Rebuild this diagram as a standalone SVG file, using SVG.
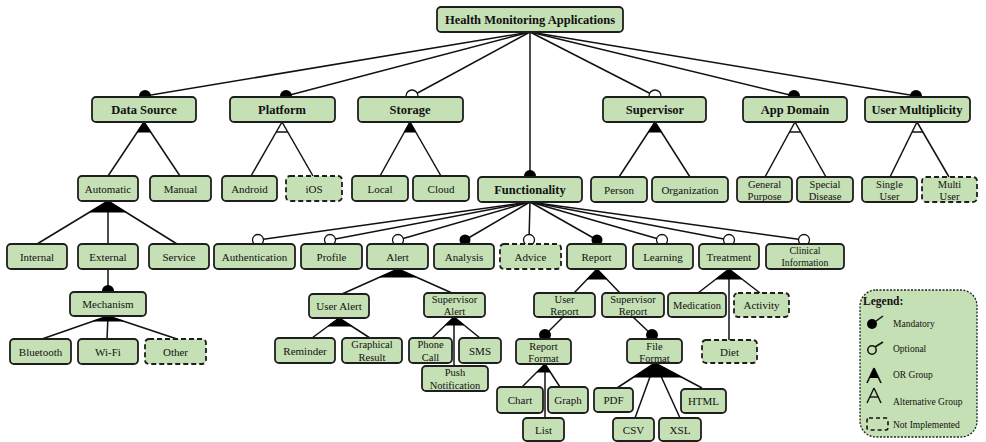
<svg xmlns="http://www.w3.org/2000/svg" width="986" height="442" viewBox="0 0 986 442" font-family="'Liberation Serif', 'Times New Roman', Times, serif">
<style>
.n{fill:#c5e0b4;stroke:#1e1e1e;stroke-width:1.8}
.d{stroke-dasharray:5 3}
text{font-family:'Liberation Serif','Times New Roman',Times,serif;font-size:11px;text-anchor:middle;fill:#111}
.b{font-weight:bold;font-size:12.5px}
.s{font-size:10.5px}
.x{font-size:9.8px}
.c line{stroke:#111;stroke-width:1.5}
.c polygon{fill:#000;stroke:#000;stroke-width:1}
.m{fill:#000}
.o{fill:#fff;stroke:#111;stroke-width:1.3}
.lg{font-size:9.5px;text-anchor:start}
</style>
<rect width="986" height="442" fill="#fff"/>

<g id="connectors" class="c">
  <line x1="530" y1="32" x2="145" y2="96"/>
  <line x1="530" y1="32" x2="286" y2="96"/>
  <line x1="530" y1="32" x2="412" y2="96"/>
  <line x1="530" y1="32" x2="655" y2="96"/>
  <line x1="530" y1="32" x2="794" y2="96"/>
  <line x1="530" y1="32" x2="916" y2="96"/>
  <line x1="530" y1="32" x2="530" y2="176"/>
  <circle class="m" cx="145" cy="96" r="6"/>
  <circle class="m" cx="286" cy="96" r="6"/>
  <circle class="o" cx="412" cy="96" r="6"/>
  <circle class="o" cx="655" cy="96" r="6"/>
  <circle class="m" cx="794" cy="96" r="6"/>
  <circle class="m" cx="916" cy="96" r="6"/>
  <circle class="m" cx="530" cy="176" r="6"/>
  <line x1="144" y1="122" x2="108" y2="176"/>
  <line x1="144" y1="122" x2="180" y2="176"/>
  <polygon points="144,122 137.3,132 150.7,132"/>
  <line x1="282" y1="122" x2="251" y2="176"/>
  <line x1="282" y1="122" x2="313" y2="176"/>
  <line x1="276.3" y1="132" x2="287.7" y2="132"/>
  <line x1="410" y1="122" x2="380" y2="176"/>
  <line x1="410" y1="122" x2="441" y2="176"/>
  <polygon points="410,122 404.4,132 415.7,132"/>
  <line x1="655" y1="122" x2="619" y2="177"/>
  <line x1="655" y1="122" x2="690" y2="177"/>
  <polygon points="655,122 648.5,132 661.4,132"/>
  <line x1="795" y1="122" x2="765" y2="177"/>
  <line x1="795" y1="122" x2="826" y2="177"/>
  <line x1="789.5" y1="132" x2="800.6" y2="132"/>
  <line x1="917" y1="122" x2="890" y2="177"/>
  <line x1="917" y1="122" x2="949" y2="177"/>
  <line x1="912.1" y1="132" x2="922.8" y2="132"/>
  <line x1="530" y1="202" x2="258" y2="240"/>
  <line x1="530" y1="202" x2="330" y2="240"/>
  <line x1="530" y1="202" x2="398" y2="240"/>
  <line x1="530" y1="202" x2="465" y2="240"/>
  <line x1="530" y1="202" x2="529" y2="240"/>
  <line x1="530" y1="202" x2="597" y2="240"/>
  <line x1="530" y1="202" x2="662" y2="240"/>
  <line x1="530" y1="202" x2="729" y2="240"/>
  <line x1="530" y1="202" x2="804" y2="240"/>
  <circle class="o" cx="258" cy="240" r="5.5"/>
  <circle class="o" cx="330" cy="240" r="5.5"/>
  <circle class="o" cx="398" cy="240" r="5.5"/>
  <circle class="m" cx="465" cy="240" r="5.5"/>
  <circle class="o" cx="529" cy="240" r="5.5"/>
  <circle class="m" cx="597" cy="240" r="5.5"/>
  <circle class="o" cx="662" cy="240" r="5.5"/>
  <circle class="o" cx="729" cy="240" r="5.5"/>
  <circle class="o" cx="804" cy="240" r="5.5"/>
  <line x1="108" y1="201" x2="37" y2="244"/>
  <line x1="108" y1="201" x2="108" y2="244"/>
  <line x1="108" y1="201" x2="177" y2="244"/>
  <polygon points="108,201 89.8,212 125.7,212"/>
  <line x1="108" y1="269" x2="108" y2="291"/>
  <circle class="m" cx="108" cy="291" r="6"/>
  <line x1="108" y1="316" x2="42" y2="339"/>
  <line x1="108" y1="316" x2="107" y2="339"/>
  <line x1="108" y1="316" x2="177" y2="339"/>
  <polygon points="108,316 93.7,321 123,321"/>
  <line x1="398" y1="269" x2="342" y2="294"/>
  <line x1="398" y1="269" x2="452" y2="293"/>
  <polygon points="398,269 380.1,277 416,277"/>
  <line x1="339" y1="318" x2="312" y2="338"/>
  <line x1="339" y1="318" x2="370" y2="338"/>
  <polygon points="339,318 328.2,326 351.4,326"/>
  <line x1="454" y1="317" x2="432" y2="338"/>
  <line x1="454" y1="317" x2="454" y2="366"/>
  <line x1="454" y1="317" x2="480" y2="338"/>
  <polygon points="454,317 445.6,325 463.9,325"/>
  <line x1="597" y1="269" x2="574" y2="293"/>
  <line x1="597" y1="269" x2="620" y2="293"/>
  <polygon points="597,269 587.4,279 606.6,279"/>
  <line x1="563" y1="317" x2="545" y2="335"/>
  <circle class="m" cx="545" cy="335" r="6"/>
  <line x1="633" y1="317" x2="652" y2="335"/>
  <circle class="m" cx="652" cy="335" r="6"/>
  <line x1="545" y1="364" x2="522" y2="387"/>
  <line x1="545" y1="364" x2="545" y2="418"/>
  <line x1="545" y1="364" x2="560" y2="387"/>
  <polygon points="545,364 537,372 550.2,372"/>
  <line x1="655" y1="363" x2="617" y2="388"/>
  <line x1="655" y1="363" x2="635" y2="418"/>
  <line x1="655" y1="363" x2="680" y2="418"/>
  <line x1="655" y1="363" x2="702" y2="388"/>
  <polygon points="655,363 633.7,377 681.3,377"/>
  <line x1="729" y1="269" x2="698" y2="293"/>
  <line x1="729" y1="269" x2="729" y2="340"/>
  <line x1="729" y1="269" x2="760" y2="293"/>
  <polygon points="729,269 716.1,279 741.9,279"/>
</g>

<g id="root"><rect class="n" x="437" y="7" width="186" height="25" rx="4"/><text class="b" x="530" y="24">Health Monitoring Applications</text></g>

<g id="data-source"><rect class="n" x="92" y="97" width="104" height="25" rx="4"/><text class="b" x="144" y="114">Data Source</text></g>
<g id="platform"><rect class="n" x="230" y="97" width="105" height="25" rx="4"/><text class="b" x="282" y="114">Platform</text></g>
<g id="storage"><rect class="n" x="358" y="97" width="105" height="25" rx="4"/><text class="b" x="410" y="114">Storage</text></g>
<g id="supervisor"><rect class="n" x="603" y="97" width="103" height="25" rx="4"/><text class="b" x="655" y="114">Supervisor</text></g>
<g id="app-domain"><rect class="n" x="743" y="97" width="104" height="25" rx="4"/><text class="b" x="795" y="114">App Domain</text></g>
<g id="user-multiplicity"><rect class="n" x="865" y="97" width="105" height="25" rx="4"/><text class="b" x="917" y="114">User Multiplicity</text></g>

<g id="automatic"><rect class="n" x="78" y="176" width="60" height="25" rx="4"/><text x="108" y="192.5">Automatic</text></g>
<g id="manual"><rect class="n" x="150" y="176" width="61" height="25" rx="4"/><text x="180.5" y="192.5">Manual</text></g>
<g id="android"><rect class="n" x="222" y="176" width="55" height="25" rx="4"/><text x="249.5" y="192.5">Android</text></g>
<g id="ios"><rect class="n d" x="286" y="176" width="56" height="25" rx="4"/><text x="314" y="192.5">iOS</text></g>
<g id="local"><rect class="n" x="352" y="176" width="56" height="25" rx="4"/><text x="380" y="192.5">Local</text></g>
<g id="cloud"><rect class="n" x="413" y="176" width="56" height="25" rx="4"/><text x="441" y="192.5">Cloud</text></g>
<g id="functionality"><rect class="n" x="478" y="177" width="104" height="25" rx="4"/><text class="b" x="530" y="194">Functionality</text></g>
<g id="person"><rect class="n" x="591" y="177" width="56" height="25" rx="4"/><text x="619" y="193.5">Person</text></g>
<g id="organization"><rect class="n" x="652" y="177" width="76" height="25" rx="4"/><text x="690" y="193.5">Organization</text></g>
<g id="general-purpose"><rect class="n" x="737" y="177" width="55" height="25" rx="4"/><text class="s" x="764.5" y="187.5">General</text><text class="s" x="764.5" y="200">Purpose</text></g>
<g id="special-disease"><rect class="n" x="797" y="177" width="56" height="25" rx="4"/><text class="s" x="825" y="187.5">Special</text><text class="s" x="825" y="200">Disease</text></g>
<g id="single-user"><rect class="n" x="862" y="177" width="55" height="25" rx="4"/><text class="s" x="889.5" y="187.5">Single</text><text class="s" x="889.5" y="200">User</text></g>
<g id="multi-user"><rect class="n d" x="922" y="177" width="55" height="25" rx="4"/><text class="s" x="949.5" y="187.5">Multi</text><text class="s" x="949.5" y="200">User</text></g>

<g id="internal"><rect class="n" x="7" y="244" width="60" height="25" rx="4"/><text x="37" y="260.5">Internal</text></g>
<g id="external"><rect class="n" x="78" y="244" width="60" height="25" rx="4"/><text x="108" y="260.5">External</text></g>
<g id="service"><rect class="n" x="149" y="244" width="60" height="25" rx="4"/><text x="179" y="260.5">Service</text></g>
<g id="authentication"><rect class="n" x="214" y="244" width="81" height="25" rx="4"/><text x="254.5" y="260.5">Authentication</text></g>
<g id="profile"><rect class="n" x="301" y="244" width="61" height="25" rx="4"/><text x="331.5" y="260.5">Profile</text></g>
<g id="alert"><rect class="n" x="367" y="244" width="61" height="25" rx="4"/><text x="397.5" y="260.5">Alert</text></g>
<g id="analysis"><rect class="n" x="434" y="244" width="60" height="25" rx="4"/><text x="464" y="260.5">Analysis</text></g>
<g id="advice"><rect class="n d" x="500" y="244" width="61" height="25" rx="4"/><text x="530.5" y="260.5">Advice</text></g>
<g id="report"><rect class="n" x="567" y="244" width="59" height="25" rx="4"/><text x="596.5" y="260.5">Report</text></g>
<g id="learning"><rect class="n" x="633" y="244" width="60" height="25" rx="4"/><text x="663" y="260.5">Learning</text></g>
<g id="treatment"><rect class="n" x="699" y="244" width="60" height="25" rx="4"/><text x="729" y="260.5">Treatment</text></g>
<g id="clinical-information"><rect class="n" x="766" y="244" width="78" height="25" rx="4"/><text class="x" x="805" y="253.5">Clinical</text><text class="x" x="805" y="265.5">Information</text></g>

<g id="mechanism"><rect class="n" x="70" y="292" width="76" height="24" rx="4"/><text x="108" y="308">Mechanism</text></g>
<g id="bluetooth"><rect class="n" x="10" y="339" width="61" height="25" rx="4"/><text x="40.5" y="355.5">Bluetooth</text></g>
<g id="wifi"><rect class="n" x="78" y="339" width="60" height="25" rx="4"/><text x="108" y="355.5">Wi-Fi</text></g>
<g id="other"><rect class="n d" x="145" y="339" width="61" height="25" rx="4"/><text x="175.5" y="355.5">Other</text></g>

<g id="user-alert"><rect class="n" x="309" y="294" width="60" height="24" rx="4"/><text x="339" y="309.5">User Alert</text></g>
<g id="supervisor-alert"><rect class="n" x="424" y="293" width="61" height="24" rx="4"/><text class="s" x="454.5" y="302.5">Supervisor</text><text class="s" x="454.5" y="314.5">Alert</text></g>
<g id="reminder"><rect class="n" x="275" y="338" width="60" height="25" rx="4"/><text x="305" y="354.5">Reminder</text></g>
<g id="graphical-result"><rect class="n" x="342" y="338" width="60" height="25" rx="4"/><text class="s" x="372" y="348">Graphical</text><text class="s" x="372" y="360.5">Result</text></g>
<g id="phone-call"><rect class="n" x="409" y="338" width="43" height="25" rx="4"/><text class="s" x="430.5" y="348">Phone</text><text class="s" x="430.5" y="360.5">Call</text></g>
<g id="sms"><rect class="n" x="459" y="338" width="42" height="25" rx="4"/><text x="480" y="354.5">SMS</text></g>
<g id="push-notification"><rect class="n" x="422" y="366" width="66" height="25" rx="4"/><text class="s" x="455" y="376">Push</text><text class="s" x="455" y="388.5">Notification</text></g>

<g id="user-report"><rect class="n" x="534" y="293" width="61" height="24" rx="4"/><text class="s" x="564.5" y="302.5">User</text><text class="s" x="564.5" y="314.5">Report</text></g>
<g id="supervisor-report"><rect class="n" x="602" y="293" width="62" height="24" rx="4"/><text class="s" x="633" y="302.5">Supervisor</text><text class="s" x="633" y="314.5">Report</text></g>
<g id="report-format"><rect class="n" x="516" y="339" width="55" height="25" rx="4"/><text class="s" x="543.5" y="349.5">Report</text><text class="s" x="543.5" y="362">Format</text></g>
<g id="file-format"><rect class="n" x="627" y="339" width="55" height="24" rx="4"/><text class="s" x="654.5" y="349.5">File</text><text class="s" x="654.5" y="361.5">Format</text></g>
<g id="chart"><rect class="n" x="497" y="387" width="46" height="26" rx="4"/><text x="520" y="404">Chart</text></g>
<g id="graph"><rect class="n" x="548" y="387" width="40" height="26" rx="4"/><text x="568" y="404">Graph</text></g>
<g id="list"><rect class="n" x="523" y="418" width="41" height="23" rx="4"/><text x="543.5" y="433.5">List</text></g>
<g id="pdf"><rect class="n" x="594" y="388" width="39" height="24" rx="4"/><text x="613.5" y="404">PDF</text></g>
<g id="html"><rect class="n" x="681" y="389" width="45" height="24" rx="4"/><text x="703.5" y="405">HTML</text></g>
<g id="csv"><rect class="n" x="613" y="418" width="41" height="23" rx="4"/><text x="633.5" y="433.5">CSV</text></g>
<g id="xsl"><rect class="n" x="659" y="418" width="42" height="23" rx="4"/><text x="680" y="433.5">XSL</text></g>

<g id="medication"><rect class="n" x="668" y="293" width="58" height="24" rx="4"/><text class="s" x="697" y="309">Medication</text></g>
<g id="activity"><rect class="n d" x="734" y="293" width="55" height="24" rx="4"/><text x="761.5" y="309">Activity</text></g>
<g id="diet"><rect class="n d" x="702" y="340" width="55" height="23" rx="4"/><text x="729.5" y="355.5">Diet</text></g>

<g id="legend">
  <rect x="860" y="290" width="117" height="147" rx="16" fill="#c5e0b4" stroke="#222" stroke-width="1.3" stroke-dasharray="2 1.5"/>
  <text class="b" x="863" y="305" style="text-anchor:start;font-size:11.5px">Legend:</text>
  <line x1="872" y1="324" x2="883" y2="316" stroke="#111" stroke-width="1.5"/>
  <circle cx="872" cy="324" r="5" fill="#000"/>
  <text class="lg" x="893" y="327">Mandatory</text>
  <line x1="875" y1="347" x2="883" y2="342" stroke="#111" stroke-width="1.5"/>
  <circle cx="872" cy="350" r="4.2" fill="none" stroke="#111" stroke-width="1.5"/>
  <text class="lg" x="893" y="352">Optional</text>
  <line x1="874" y1="368" x2="867" y2="383" stroke="#111" stroke-width="1.6"/>
  <line x1="874" y1="368" x2="881" y2="383" stroke="#111" stroke-width="1.6"/>
  <polygon points="874,368 869.3,378 878.7,378" fill="#000"/>
  <text class="lg" x="893" y="378">OR Group</text>
  <line x1="874" y1="388" x2="867" y2="403" stroke="#111" stroke-width="1.4"/>
  <line x1="874" y1="388" x2="881" y2="403" stroke="#111" stroke-width="1.4"/>
  <line x1="869.8" y1="397" x2="878.2" y2="397" stroke="#111" stroke-width="1.4"/>
  <text class="lg" x="893" y="405">Alternative  Group</text>
  <rect x="867" y="418" width="21" height="12" rx="2" fill="none" stroke="#111" stroke-width="1.6" stroke-dasharray="4 3"/>
  <text class="lg" x="893" y="428">Not Implemented</text>
</g>
</svg>
